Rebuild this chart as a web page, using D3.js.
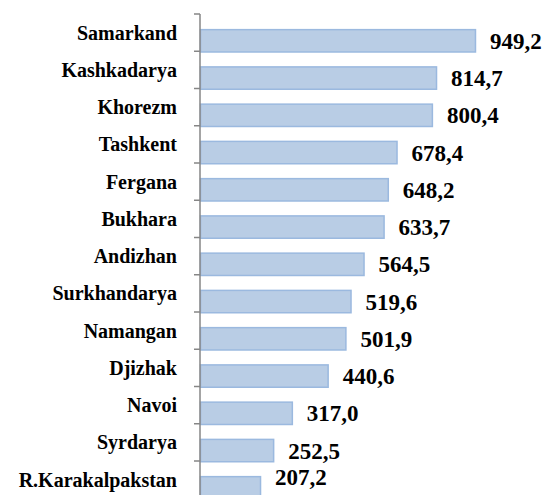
<!DOCTYPE html>
<html>
<head>
<meta charset="utf-8">
<script src="https://cdn.jsdelivr.net/npm/d3@7"></script>
<style>
  body { margin: 0; background: #fff; font-family: "Liberation Serif", serif; }
  svg { display: block; }
  .lbl { font-family: "Liberation Serif", "Times New Roman", serif; font-weight: bold; }
</style>
</head>
<body>
<svg id="chart" width="547" height="495"></svg>
<script>
var regions = ["Samarkand", "Kashkadarya", "Khorezm", "Tashkent", "Fergana", "Bukhara",
  "Andizhan", "Surkhandarya", "Namangan", "Djizhak", "Navoi", "Syrdarya", "R.Karakalpakstan"];
var values = [949.2, 814.7, 800.4, 678.4, 648.2, 633.7, 564.5, 519.6, 501.9, 440.6, 317.0, 252.5, 207.2];

var svg = d3.select("#chart");
var H = 495;

var data = regions.map(function (r, i) { return { name: r, value: values[i] }; });

var x = d3.scaleLinear().domain([0, 1000]).range([200, 489.7]);
var y = d3.scaleBand().domain(regions).range([14, 14 + 13 * 37.25]).padding(0);
var step = y.step();

var fmt = d3.formatLocale({ decimal: ",", thousands: " ", grouping: [3], currency: ["", ""] }).format(".1f");

// bars sit in the lower part of each band
svg.append("g")
  .selectAll("rect")
  .data(data)
  .enter()
  .append("rect")
  .attr("x", x(0) + 0.5)
  .attr("y", function (d) { return y(d.name) + step * 0.42; })
  .attr("width", function (d) { return x(d.value) - x(0); })
  .attr("height", step * 0.6)
  .attr("fill", "#b9cde5")
  .attr("stroke", "#9bb9df")
  .attr("stroke-width", 1.5);

// axis line + ticks at band boundaries
var axis = svg.append("g").attr("stroke", "#868686").attr("stroke-width", 1.5);
axis.append("line")
  .attr("x1", x(0)).attr("x2", x(0))
  .attr("y1", y.range()[0]).attr("y2", y.range()[1]);
var bounds = regions.map(function (r) { return y(r); }).concat([y.range()[1]]);
axis.selectAll(".tick")
  .data(bounds)
  .enter()
  .append("line")
  .attr("class", "tick")
  .attr("x1", x(0) - 6).attr("x2", x(0))
  .attr("y1", function (d) { return d; })
  .attr("y2", function (d) { return d; });

function drawLabels() {
  svg.selectAll("text.lbl").remove();

  // category labels
  svg.append("g")
    .selectAll("text")
    .data(data)
    .enter()
    .append("text")
    .attr("class", "lbl")
    .attr("x", 177)
    .attr("y", function (d) { return y(d.name) + step / 2 + 7; })
    .attr("text-anchor", "end")
    .attr("font-family", "Liberation Serif")
    .attr("font-weight", "bold")
    .attr("font-size", 20)
    .attr("fill", "#000")
    .text(function (d) { return d.name; });

  // value labels
  svg.append("g")
    .selectAll("text")
    .data(data)
    .enter()
    .append("text")
    .attr("class", "lbl")
    .attr("x", function (d) { return x(d.value) + 15; })
    .attr("y", function (d) { return Math.min(y(d.name) + step * 0.72, H - 18) + 8; })
    .attr("text-anchor", "start")
    .attr("font-family", "Liberation Serif")
    .attr("font-weight", "bold")
    .attr("font-size", 23)
    .attr("fill", "#000")
    .text(function (d) { return fmt(d.value); });
}

drawLabels();
if (document.fonts && document.fonts.load) {
  document.fonts.load('bold 20px "Liberation Serif"').then(drawLabels, function () {});
}
</script>
</body>
</html>
